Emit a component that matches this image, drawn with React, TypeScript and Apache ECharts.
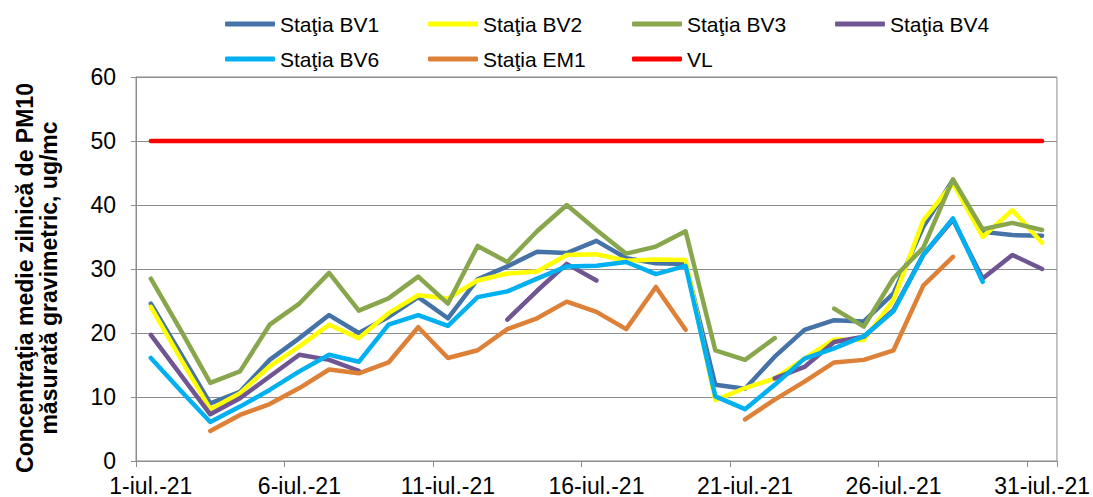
import React, { useEffect, useRef } from "react";
import * as echarts from "echarts";

const categories = [
  "1-iul.-21", "2-iul.-21", "3-iul.-21", "4-iul.-21", "5-iul.-21", "6-iul.-21", "7-iul.-21",
  "8-iul.-21", "9-iul.-21", "10-iul.-21", "11-iul.-21", "12-iul.-21", "13-iul.-21", "14-iul.-21",
  "15-iul.-21", "16-iul.-21", "17-iul.-21", "18-iul.-21", "19-iul.-21", "20-iul.-21", "21-iul.-21",
  "22-iul.-21", "23-iul.-21", "24-iul.-21", "25-iul.-21", "26-iul.-21", "27-iul.-21", "28-iul.-21",
  "29-iul.-21", "30-iul.-21", "31-iul.-21",
];

const bv1 = [24.6, 16.8, 9.0, 10.8, 15.8, 19.2, 22.8, 20.0, 22.5, 25.6, 22.3, 28.4, 30.4, 32.7, 32.5, 34.4, 31.7, 30.9, 30.8, 11.9, 11.3, 16.3, 20.5, 22.0, 21.8, 26.2, 36.6, 43.9, 35.8, 35.3, 35.2];
const bv2 = [24.1, 16.0, 8.1, 10.6, 14.8, 17.9, 21.3, 19.2, 23.1, 25.9, 25.4, 28.2, 29.3, 29.6, 32.2, 32.3, 31.3, 31.5, 31.4, 9.5, 11.4, 12.9, 16.0, 19.0, 18.9, 25.2, 37.6, 43.4, 35.0, 39.2, 34.1];
const bv3 = [28.5, 20.5, 12.2, 14.0, 21.3, 24.6, 29.4, 23.5, 25.4, 28.8, 24.6, 33.6, 31.1, 35.9, 40.0, 36.1, 32.4, 33.5, 35.9, 17.3, 15.8, 19.2, null, 23.8, 21.0, 28.6, 33.3, 44.0, 36.2, 37.2, 36.1];
const bv4 = [19.7, 13.5, 7.3, 9.8, 13.2, 16.6, 15.8, 14.1, null, null, null, null, 22.1, 26.6, 30.8, 28.2, null, null, null, null, null, 12.9, 14.7, 18.6, 19.4, 23.6, 32.2, 37.7, 28.5, 32.2, 30.0];
const bv6 = [16.1, 11.0, 6.1, 8.5, 11.1, 14.0, 16.6, 15.5, 21.3, 22.8, 21.1, 25.6, 26.5, 28.5, 30.4, 30.5, 31.1, 29.2, 30.5, 10.1, 8.1, 11.9, 16.0, 17.6, 19.5, 23.4, 32.2, 37.9, 28.0, null, null];
const em1 = [null, null, 4.7, 7.2, 8.9, 11.4, 14.3, 13.7, 15.4, 20.9, 16.1, 17.3, 20.6, 22.3, 24.9, 23.3, 20.6, 27.2, 20.5, null, 6.5, 9.6, 12.4, 15.4, 15.8, 17.3, 27.4, 31.9, null, null, null];
const vl = [50, 50, 50, 50, 50, 50, 50, 50, 50, 50, 50, 50, 50, 50, 50, 50, 50, 50, 50, 50, 50, 50, 50, 50, 50, 50, 50, 50, 50, 50, 50];

const seriesNames = ["Staţia BV1", "Staţia BV2", "Staţia BV3", "Staţia BV4", "Staţia BV6", "Staţia EM1", "VL"];
const seriesData = [bv1, bv2, bv3, bv4, bv6, em1, vl];
const seriesColors = ["#4572A7", "#FFFF00", "#88A64C", "#6F5592", "#00B0F0", "#DD8138", "#FF0000"];

const yTitle = "Concentraţia medie zilnică de PM10\nmăsurată gravimetric, ug/mc";

// legend placement (left x of icon, row center y)
const legendPos = [
  [225, 24], [428, 24], [632, 24], [835, 24],
  [225, 59], [428, 59], [632, 59],
];

const FONT = "'Liberation Sans', Arial, sans-serif";
const GRID = "#8c8c8c";

export default function App() {
  const ref = useRef<HTMLDivElement>(null);
  useEffect(() => {
    if (!ref.current) return;
    const chart = echarts.init(ref.current, null, { renderer: "svg" });
    const option = {
      animation: false,
      backgroundColor: "#ffffff",
      textStyle: { fontFamily: FONT },
      grid: {
        left: 136,
        right: 34,
        top: 77,
        bottom: 36,
        show: true,
        borderColor: GRID,
        borderWidth: 1,
      },
      legend: seriesNames.map((n, i) => ({
        data: [{ name: n, icon: "roundRect" }],
        left: legendPos[i][0],
        top: legendPos[i][1] - 12,
        itemWidth: 50,
        itemHeight: 5,
        padding: 0,
        itemStyle: { color: seriesColors[i], borderWidth: 0 },
        textStyle: { fontFamily: FONT, fontSize: 21, color: "#000", lineHeight: 24 },
        selectedMode: false,
      })),
      xAxis: {
        type: "category",
        data: categories,
        boundaryGap: true,
        axisLine: { show: true, lineStyle: { color: GRID, width: 1 } },
        axisTick: { show: true, interval: 4, length: 6, lineStyle: { color: GRID } },
        axisLabel: {
          interval: 4,
          fontFamily: FONT,
          fontSize: 23,
          color: "#000",
          margin: 13,
        },
        splitLine: { show: false },
      },
      yAxis: {
        type: "value",
        min: 0,
        max: 60,
        interval: 10,
        axisLine: { show: true, lineStyle: { color: GRID, width: 1 } },
        axisTick: { show: true, length: 5, lineStyle: { color: GRID } },
        axisLabel: { fontFamily: FONT, fontSize: 23, color: "#000", margin: 20 },
        splitLine: { show: true, lineStyle: { color: GRID, width: 1 } },
      },
      graphic: [
        {
          type: "text",
          x: 37,
          y: 278,
          rotation: Math.PI / 2,
          style: {
            text: yTitle,
            fontFamily: FONT,
            fontSize: 23,
            fontWeight: "bold",
            fill: "#000",
            align: "center",
            verticalAlign: "middle",
            lineHeight: 24,
          },
        },
      ],
      series: seriesNames.map((n, i) => ({
        name: n,
        type: "line",
        data: seriesData[i],
        symbol: "none",
        showSymbol: false,
        connectNulls: false,
        color: seriesColors[i],
        lineStyle: { color: seriesColors[i], width: 4.5, cap: "round", join: "round" },
        z: 2 + i,
      })),
    };
    chart.setOption(option);
    return () => chart.dispose();
  }, []);
  return (
    <div
      ref={ref}
      style={{ position: "fixed", left: 0, top: 0, width: 1093, height: 497 }}
    />
  );
}
